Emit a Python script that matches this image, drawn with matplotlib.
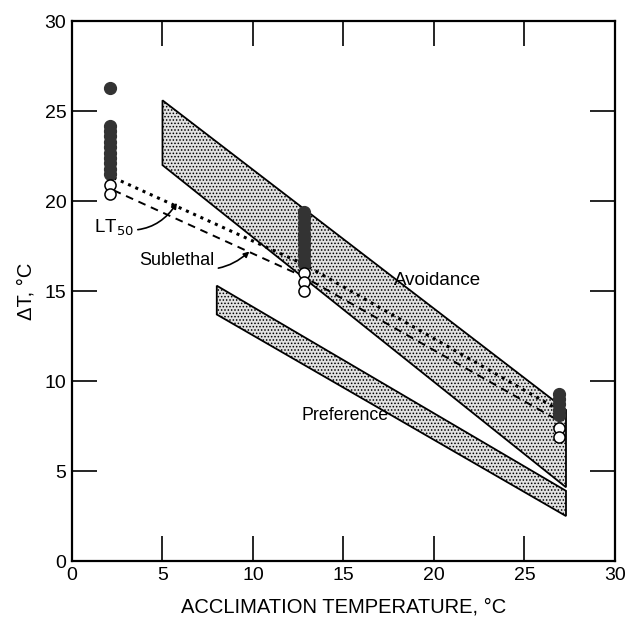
import matplotlib
matplotlib.use("Agg")
import matplotlib.pyplot as plt
from matplotlib.patches import Polygon

plt.rcParams["font.family"] = ["Liberation Sans", "DejaVu Sans"]
plt.rcParams["hatch.color"] = "#8a8a8a"
plt.rcParams["hatch.linewidth"] = 0.7

# ── data ────────────────────────────────────────────────────────────────────
# acclimation temperatures of the three test groups
acclim_temps = [2.1, 12.8, 26.9]

# filled = died, open = survived (one list per group)
filled_dT = [
    [26.3, 24.2, 23.9, 23.6, 23.3, 23.0, 22.7, 22.4, 22.1, 21.8, 21.5],
    [19.4, 19.1, 18.8, 18.5, 18.2, 17.9, 17.6, 17.3, 17.0, 16.7, 16.5],
    [9.3, 9.0, 8.7, 8.4, 8.1],
]
open_dT = [
    [20.9, 20.4],
    [16.0, 15.5, 15.0],
    [7.4, 6.9],
]

# LT50 (dotted) and sublethal (dashed) lines
lt50_x = [2.3, 12.8, 26.9]
lt50_y = [21.3, 16.5, 8.4]
sub_x = [2.3, 12.8, 26.9]
sub_y = [20.6, 15.8, 7.8]

# shaded bands (corners, clockwise)
avoid_x = [5.0, 27.3, 27.3, 5.0]
avoid_y = [25.6, 8.4, 4.1, 22.0]
pref_x = [8.0, 27.3, 27.3, 8.0]
pref_y = [15.3, 3.9, 2.5, 13.7]

ticks = [0, 5, 10, 15, 20, 25, 30]

# ── figure ──────────────────────────────────────────────────────────────────
fig = plt.figure(figsize=(6.29, 6.22), dpi=100)
ax = fig.add_axes([0.1145, 0.098, 0.863, 0.868])

for xs, ys in [(avoid_x, avoid_y), (pref_x, pref_y)]:
    band = Polygon(list(zip(xs, ys)), closed=True, facecolor="#e2e2e2",
                   edgecolor="black", linewidth=1.3, hatch=".....",
                   zorder=1)
    ax.add_patch(band)

ax.plot(lt50_x, lt50_y, color="black", linestyle=(0, (1, 1.6)),
        linewidth=2.2, zorder=2)
ax.plot(sub_x, sub_y, color="black", linestyle=(0, (4, 3)),
        linewidth=1.4, zorder=2)

for t, f_vals, o_vals in zip(acclim_temps, filled_dT, open_dT):
    ax.plot([t] * len(f_vals), f_vals, "o", color="#333333",
            markersize=8.5, zorder=3)
    ax.plot([t] * len(o_vals), o_vals, "o", markerfacecolor="white",
            markeredgecolor="black", markeredgewidth=1.1,
            markersize=8, zorder=3)

# ── labels on the lines ─────────────────────────────────────────────────────
ax.annotate("LT$_{50}$", xy=(5.8, 19.9), xytext=(1.2, 18.5),
            fontsize=13.5, va="center", ha="left",
            arrowprops=dict(arrowstyle="-|>", color="black", lw=1.2,
                            mutation_scale=8, shrinkA=1, shrinkB=0,
                            connectionstyle="arc3,rad=0.35"))
ax.annotate("Sublethal", xy=(9.8, 17.2), xytext=(3.7, 16.7),
            fontsize=13, va="center", ha="left",
            arrowprops=dict(arrowstyle="-|>", color="black", lw=1.2,
                            mutation_scale=8, shrinkA=1, shrinkB=0,
                            connectionstyle="arc3,rad=0.35"))
ax.text(17.8, 15.6, "Avoidance", fontsize=13.5, va="center", ha="left")
ax.text(12.7, 8.1, "Preference", fontsize=12.8, va="center", ha="left")

# ── axes ────────────────────────────────────────────────────────────────────
ax.set_xlim(0, 30)
ax.set_ylim(0, 30)
ax.set_xticks(ticks)
ax.set_yticks(ticks)
ax.tick_params(direction="in", length=18, width=1.2, top=True, right=True,
               labelsize=14, pad=4)
for side in ax.spines.values():
    side.set_linewidth(1.6)

ax.set_xlabel("ACCLIMATION TEMPERATURE, °C", fontsize=14.5)
ax.set_ylabel("ΔT, °C", fontsize=14.5)
ax.xaxis.set_label_coords(0.5, -0.068)
ax.yaxis.set_label_coords(-0.068, 0.5)

fig.savefig("out.png", dpi=100)
